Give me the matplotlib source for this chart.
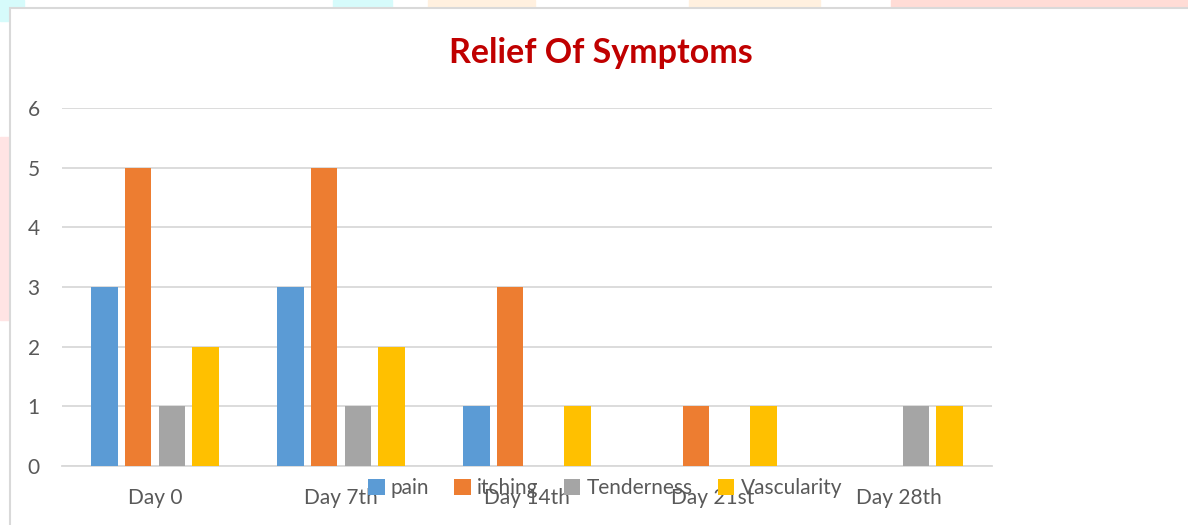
import numpy as np
import matplotlib.pyplot as plt
from matplotlib.patches import Rectangle

days = ['Day 0', 'Day 7th', 'Day 14th', 'Day 21st', 'Day 28th']
pain = [3, 3, 1, 0, 0]
itching = [5, 5, 3, 1, 0]
tenderness = [1, 1, 0, 0, 1]
vascularity = [2, 2, 1, 1, 1]
series_names = ['pain', 'itching', 'Tenderness', 'Vascularity']
colors = ['#5B9BD5', '#ED7D31', '#A5A5A5', '#FFC000']

plt.rcParams['font.family'] = ['Lato', 'DejaVu Sans']

fig = plt.figure(figsize=(11.88, 5.25), dpi=100)

# faint background shapes from the page behind the chart
fig.patches.append(Rectangle((0, 0.96), 0.02, 0.04, transform=fig.transFigure, color='#D6FBFB', zorder=0))
fig.patches.append(Rectangle((0.28, 0.96), 0.05, 0.04, transform=fig.transFigure, color='#D6FBFB', zorder=0))
fig.patches.append(Rectangle((0.36, 0.96), 0.09, 0.04, transform=fig.transFigure, color='#FFF0DF', zorder=0))
fig.patches.append(Rectangle((0.58, 0.96), 0.11, 0.04, transform=fig.transFigure, color='#FFF0DF', zorder=0))
fig.patches.append(Rectangle((0.75, 0.96), 0.31, 0.04, transform=fig.transFigure, color='#FFDCD6', zorder=0))
fig.patches.append(Rectangle((0, 0.39), 0.008, 0.35, transform=fig.transFigure, color='#FFE4E4', zorder=0))
# chart area border
fig.patches.append(Rectangle((10/1188, -0.1), 1.1, 1 - 8/525 + 0.1, transform=fig.transFigure,
                             facecolor='white', edgecolor='#D9D9D9', linewidth=1.5, zorder=1))

ax = fig.add_axes([62/1188, 59/525, 930/1188, 358/525])
ax.set_facecolor('none')
ax.set_zorder(5)

x = np.arange(len(days))
step = 0.181
width = 0.14
data = [pain, itching, tenderness, vascularity]
for i, (vals, name, c) in enumerate(zip(data, series_names, colors)):
    ax.bar(x + (i - 1.5) * step, vals, width, color=c, label=name, zorder=3)

ax.set_xlim(-0.5, 4.5)
ax.set_ylim(0, 6)
ax.set_yticks(range(7))
ax.set_xticks(x)
ax.set_xticklabels(days)
ax.grid(axis='y', color='#D9D9D9', linewidth=1.3, zorder=0)
for s in ['top', 'right', 'left']:
    ax.spines[s].set_visible(False)
ax.spines['bottom'].set_color('#D9D9D9')
ax.spines['bottom'].set_linewidth(1.3)
ax.tick_params(axis='both', length=0, labelsize=15, colors='#595959')
ax.tick_params(axis='y', pad=16)
ax.tick_params(axis='x', pad=16)

fig.text(601/1188, 1 - 53/525, 'Relief Of Symptoms', ha='center', va='center',
         fontsize=24.5, fontweight='bold', color='#C00000', zorder=6)

leg = ax.legend(loc='center', bbox_to_anchor=(605/1188, 1 - 488/525), bbox_transform=fig.transFigure,
                ncol=4, frameon=False, fontsize=15, handlelength=0.8, handleheight=0.8,
                handletextpad=0.3, columnspacing=1.2)
for t in leg.get_texts():
    t.set_color('#595959')

fig.savefig('out.png', dpi=100)
